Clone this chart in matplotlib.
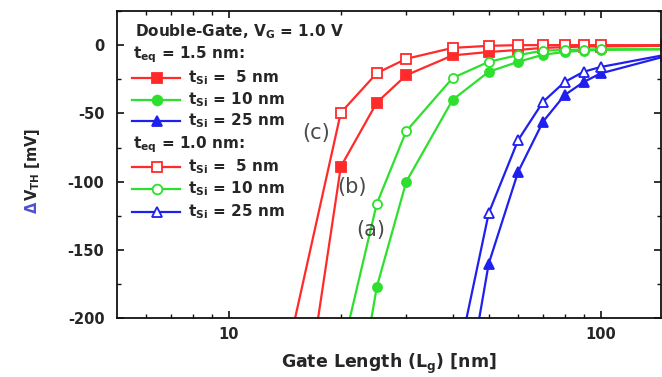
import matplotlib
matplotlib.use("Agg")
import matplotlib.pyplot as plt
from matplotlib.ticker import FixedLocator, NullFormatter, FixedFormatter

plt.rcParams['font.family'] = ['DejaVu Sans']
plt.rcParams['font.weight'] = 'bold'
plt.rcParams['mathtext.fontset'] = 'custom'
plt.rcParams['mathtext.rm'] = 'DejaVu Sans:bold'
plt.rcParams['mathtext.default'] = 'rm'
plt.rcParams['axes.unicode_minus'] = False

# ---------------- data ----------------
L_red_f = [15, 20, 25, 30, 40, 50, 60, 70, 80, 90, 100, 150]
V_red_f = [-316, -89, -42, -22, -7.5, -5, -3.5, -2, -1.5, -1, -1, -0.5]
L_red_o = [14, 20, 25, 30, 40, 50, 60, 70, 80, 90, 100, 150]
V_red_o = [-239, -49.5, -20.5, -10, -2, -0.5, 0, 0, 0, 0, 0, 0]

L_grn_f = [20, 25, 30, 40, 50, 60, 70, 80, 90, 100, 150]
V_grn_f = [-330, -177, -100, -40, -19.5, -12.2, -7, -5, -4, -3.5, -3]
L_grn_o = [20, 25, 30, 40, 50, 60, 70, 80, 90, 100, 150]
V_grn_o = [-228, -116, -63, -24, -12.2, -7.3, -4, -3.5, -3.2, -3, -3]

L_blu_f = [40, 50, 60, 70, 80, 90, 100, 150]
V_blu_f = [-312, -160, -92.7, -56, -36.6, -27, -20.7, -8]
L_blu_o = [40, 50, 60, 70, 80, 90, 100, 150]
V_blu_o = [-248, -123, -69.5, -41.5, -27, -19.5, -16, -7]

legend_title = "Double-Gate, V$_{G}$ = 1.0 V"
header_15 = "t$_{eq}$ = 1.5 nm:"
header_10 = "t$_{eq}$ = 1.0 nm:"
tsi_labels = ["t$_{Si}$ =  5 nm", "t$_{Si}$ = 10 nm", "t$_{Si}$ = 25 nm"]
curve_labels = ["(c)", "(b)", "(a)"]
curve_label_L = [18.7, 23.5, 26.3]
curve_label_V = [-64, -104, -135]

x_major = [10, 100]
x_major_labels = ["10", "100"]
y_major = [0, -50, -100, -150, -200]

RED, GRN, BLU = '#ff2a2a', '#2ee02e', '#2020ee'
TXT = '#262626'

fig = plt.figure(figsize=(6.62, 3.77), dpi=100)
ax = fig.add_axes([117/662, 1 - 318.3/377, 543.6/662, 307.3/377])

lw, ms = 1.6, 6.5
series = [
    (L_red_f, V_red_f, RED, 's', True),
    (L_grn_f, V_grn_f, GRN, 'o', True),
    (L_blu_f, V_blu_f, BLU, '^', True),
    (L_red_o, V_red_o, RED, 's', False),
    (L_grn_o, V_grn_o, GRN, 'o', False),
    (L_blu_o, V_blu_o, BLU, '^', False),
]
for L, V, c, m, filled in series:
    ax.plot(L, V, color=c, lw=lw, marker=m, ms=ms,
            mfc=c if filled else 'white', mec=c, mew=1.3, clip_on=True)

ax.set_xscale('log')
ax.set_xlim(5, 145)
ax.set_ylim(-200, 25)

ax.xaxis.set_major_locator(FixedLocator(x_major))
ax.xaxis.set_major_formatter(FixedFormatter(x_major_labels))
ax.xaxis.set_minor_locator(FixedLocator([6, 7, 8, 9, 20, 30, 40, 50, 60, 70, 80, 90]))
ax.xaxis.set_minor_formatter(NullFormatter())
ax.yaxis.set_major_locator(FixedLocator(y_major))
ax.yaxis.set_minor_locator(FixedLocator([-25, -75, -125, -175, 25]))

ax.tick_params(which='both', direction='in', top=True, right=True, colors='#111111',
               labelcolor=TXT, labelsize=10.5)
ax.tick_params(which='major', length=5, width=1.2)
ax.tick_params(axis='y', which='major', pad=9)
ax.tick_params(axis='x', which='major', pad=6)
ax.tick_params(which='minor', length=3, width=1.0)
for lab in ax.get_xticklabels() + ax.get_yticklabels():
    lab.set_fontweight('bold')
for s in ax.spines.values():
    s.set_linewidth(1.3)
    s.set_color('#111111')

ax.set_xlabel("Gate Length (L$_{g}$) [nm]", fontsize=12.5, fontweight='bold',
              color=TXT, labelpad=7)

# y label: blue Delta + dark rest
fig.text(32/662, 1 - 207/377, "\u0394", rotation=90, ha='center', va='center',
         fontsize=10.5, fontweight='bold', color='#5050d0')
fig.text(32/662, 1 - 201/377, "V$_{TH}$ [mV]", rotation=90, ha='center', va='bottom',
         fontsize=10.5, fontweight='bold', color=TXT)

# legend (manual, axes fraction)
lx0, lx1, lmx, ltx = 0.0276, 0.1159, 0.0736, 0.1306
ax.text(0.033, 0.932, legend_title, transform=ax.transAxes, ha='left', va='center',
        fontsize=11, fontweight='bold', color=TXT)
ax.text(0.029, 0.857, header_15, transform=ax.transAxes, ha='left', va='center',
        fontsize=11, fontweight='bold', color=TXT)
ax.text(0.029, 0.564, header_10, transform=ax.transAxes, ha='left', va='center',
        fontsize=11, fontweight='bold', color=TXT)
rows_y = [0.782, 0.710, 0.642, 0.492, 0.421, 0.346]
for (L, V, c, m, filled), yy, lab in zip(series, rows_y, tsi_labels * 2):
    ax.plot([lx0, lx1], [yy, yy], transform=ax.transAxes, color=c, lw=lw, clip_on=False)
    ax.plot([lmx], [yy], transform=ax.transAxes, marker=m, ms=ms + 0.5, color=c,
            mfc=c if filled else 'white', mec=c, mew=1.3, clip_on=False)
    ax.text(ltx, yy, lab, transform=ax.transAxes, ha='left', va='center',
            fontsize=11, fontweight='bold', color=TXT)

# curve labels
for lab, lx, ly in zip(curve_labels, curve_label_L, curve_label_V):
    ax.text(lx, ly, lab, fontsize=15, fontweight='normal', color='#4a4a4a',
            ha='right', va='center')

fig.savefig("out.png", dpi=100)
